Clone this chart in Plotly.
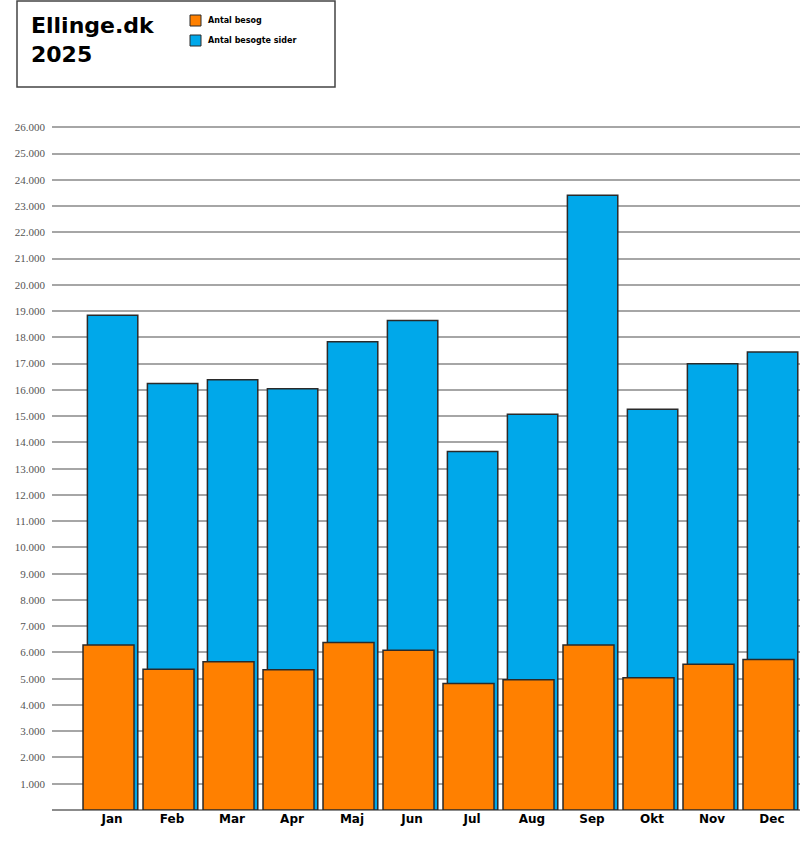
import plotly.graph_objects as go

# Monthly figures
months = ["Jan", "Feb", "Mar", "Apr", "Maj", "Jun", "Jul", "Aug", "Sep", "Okt", "Nov", "Dec"]
visits = [6280, 5360, 5650, 5340, 6380, 6080, 4820, 4960, 6280, 5040, 5550, 5730]
pages = [18840, 16240, 16385, 16040, 17830, 18640, 13650, 15070, 23410, 15260, 17000, 17440]

y_tick_values = [1000, 2000, 3000, 4000, 5000, 6000, 7000, 8000, 9000, 10000, 11000, 12000, 13000,
                 14000, 15000, 16000, 17000, 18000, 19000, 20000, 21000, 22000, 23000, 24000, 25000, 26000]
y_tick_labels = ["1.000", "2.000", "3.000", "4.000", "5.000", "6.000", "7.000", "8.000", "9.000",
                 "10.000", "11.000", "12.000", "13.000", "14.000", "15.000", "16.000", "17.000",
                 "18.000", "19.000", "20.000", "21.000", "22.000", "23.000", "24.000", "25.000", "26.000"]

title_text = "Ellinge.dk<br>2025"
legend_names = ["Antal besog", "Antal besogte sider"]

ORANGE = "#ff8000"
BLUE = "#00a8ea"
EDGE = "#2a2a2a"

W, H = 800, 843
ML, MR, MT, MB = 52, 0, 126, 33
PW, PH = W - ML - MR, H - MT - MB


def px(x):
    return (x - ML) / PW


def py(y):
    return (H - MB - y) / PH


fig = go.Figure()

fig.add_trace(go.Bar(x=months, y=pages, name=legend_names[1], width=0.84, offset=-0.41,
                     marker=dict(color=BLUE, line=dict(color=EDGE, width=1.5)), showlegend=False))
fig.add_trace(go.Bar(x=months, y=visits, name=legend_names[0], width=0.85, offset=-0.483,
                     marker=dict(color=ORANGE, line=dict(color=EDGE, width=1.5)), showlegend=False))

# title box
shapes = [dict(type="rect", xref="paper", yref="paper", x0=px(17), x1=px(335), y0=py(87), y1=py(1),
               line=dict(color="#444", width=1.5), fillcolor="white", layer="above")]
annotations = [dict(text=title_text, xref="paper", yref="paper", x=px(29), y=py(11),
                    xanchor="left", yanchor="top", align="left", showarrow=False,
                    font=dict(family="DejaVu Sans", size=22, color="black", weight="bold"))]
# hand-made legend inside the box
for i, (name, col) in enumerate(zip(legend_names, [ORANGE, BLUE])):
    top = 15 + 20 * i
    shapes.append(dict(type="rect", xref="paper", yref="paper", x0=px(190), x1=px(201),
                       y0=py(top + 11), y1=py(top), fillcolor=col,
                       line=dict(color=EDGE, width=1), layer="above"))
    annotations.append(dict(text=name, xref="paper", yref="paper", x=px(206), y=py(top + 5.5),
                            xanchor="left", yanchor="middle", showarrow=False,
                            font=dict(family="DejaVu Sans", size=8, color="black", weight="bold")))

fig.update_layout(
    width=W, height=H,
    margin=dict(l=ML, r=MR, t=MT, b=MB),
    paper_bgcolor="white", plot_bgcolor="white",
    barmode="overlay",
    shapes=shapes,
    annotations=annotations,
    xaxis=dict(range=[-1, 11.467], showgrid=False, zeroline=False, showline=False, ticks="",
               tickfont=dict(family="DejaVu Sans", size=12, color="black", weight="bold")),
    yaxis=dict(range=[0, 26050], tickvals=y_tick_values, ticktext=y_tick_labels,
               showgrid=True, gridcolor="#a6a6a6", gridwidth=1.5,
               zeroline=True, zerolinecolor="#8c8c8c", zerolinewidth=2,
               ticks="", ticklabelstandoff=6,
               tickfont=dict(family="Liberation Serif", size=11, color="#555555")),
)

fig.write_html("out.html", config={"displayModeBar": False},
               post_script="document.body.style.margin='0';")
